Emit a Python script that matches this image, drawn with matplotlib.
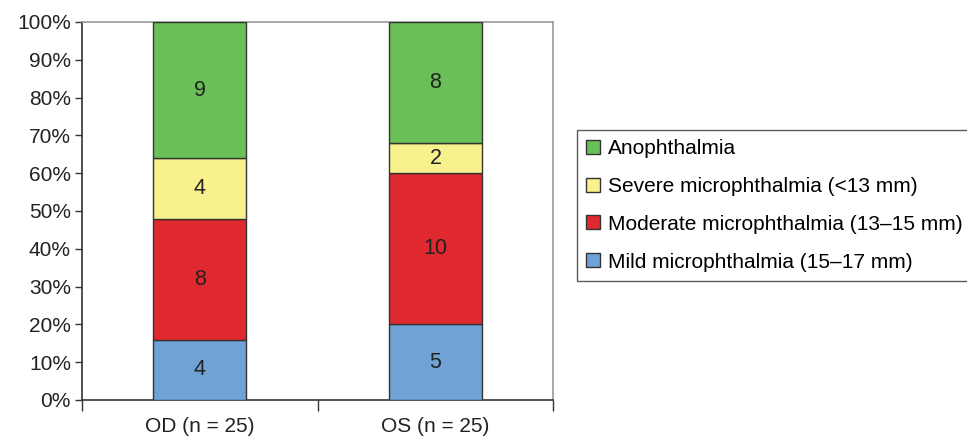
import matplotlib.pyplot as plt
import numpy as np

plt.rcParams['font.family'] = ['Liberation Sans', 'DejaVu Sans']

groups = ["OD (n = 25)", "OS (n = 25)"]
categories = ["Mild microphthalmia (15\u201317 mm)",
              "Moderate microphthalmia (13\u201315 mm)",
              "Severe microphthalmia (<13 mm)",
              "Anophthalmia"]
mild = [4, 5]
moderate = [8, 10]
severe = [4, 2]
anoph = [9, 8]
colors = ["#6fa3d6", "#e0292f", "#f8f18e", "#6abf56"]

counts = np.array([mild, moderate, severe, anoph], dtype=float)
totals = counts.sum(axis=0)
pct = counts / totals * 100

fig = plt.figure(figsize=(9.67, 4.37), dpi=100)
ax = fig.add_axes([0.0848, 0.0847, 0.4873, 0.865])

x = np.arange(len(groups))
bottom = np.zeros(len(groups))
handles = []
for i in range(len(categories)):
    b = ax.bar(x, pct[i], 0.395, bottom=bottom, color=colors[i],
               edgecolor="#333333", linewidth=1.0, label=categories[i], zorder=3)
    handles.append(b)
    for j in range(len(groups)):
        ax.text(x[j], bottom[j] + pct[i][j] / 2, f"{int(counts[i][j])}",
                ha="center", va="center", fontsize=15.5, color="#222222", zorder=4)
    bottom += pct[i]

ax.set_xlim(-0.5, 1.5)
ax.set_ylim(0, 100)
ax.set_yticks(np.arange(0, 101, 10))
ax.set_yticklabels([f"{v}%" for v in range(0, 101, 10)], fontsize=15, color="#222222")
ax.set_xticks(x)
ax.set_xticklabels(groups, fontsize=15, color="#222222")
ax.tick_params(axis="x", which="major", length=0, pad=12)
ax.set_xticks([-0.5, 0.5, 1.5], minor=True)
ax.tick_params(axis="x", which="minor", length=8, width=1, color="#333333")
ax.tick_params(axis="y", length=5, width=1, color="#333333", pad=3)

ax.spines["left"].set_color("#333333")
ax.spines["bottom"].set_color("#333333")
ax.spines["top"].set_color("#999999")
ax.spines["right"].set_color("#999999")
for s in ax.spines.values():
    s.set_linewidth(1.2)

leg = fig.legend(handles[::-1], categories[::-1], loc="center left",
                 bbox_to_anchor=(0.5967, 0.53), fontsize=15, frameon=True,
                 fancybox=False, edgecolor="#333333", handlelength=0.65,
                 handleheight=0.65, handletextpad=0.4, labelspacing=0.9,
                 borderpad=0.45, borderaxespad=0)
leg.get_frame().set_linewidth(1.0)

fig.savefig("out.png", dpi=100)
